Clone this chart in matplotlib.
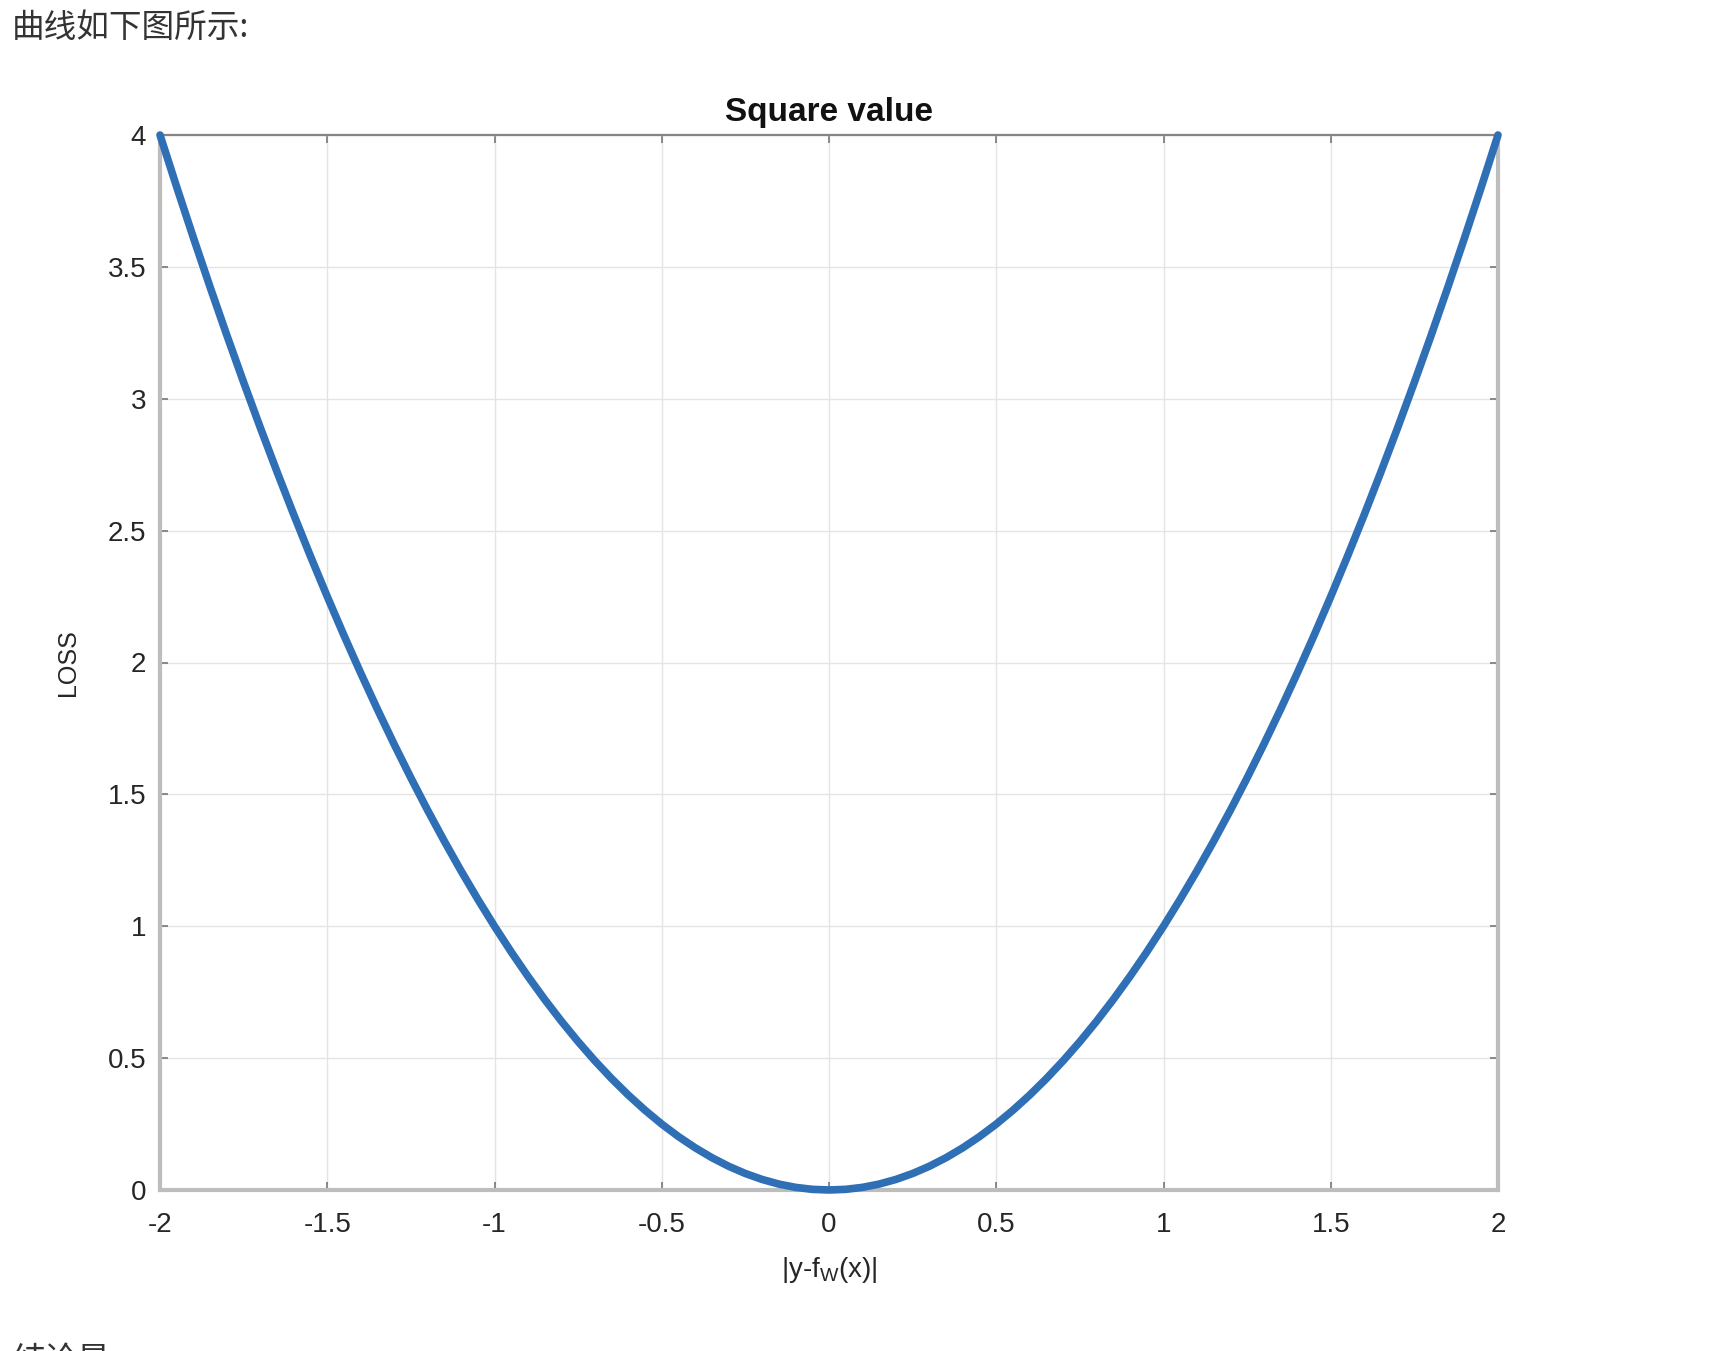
import matplotlib
matplotlib.use("Agg")
import matplotlib.pyplot as plt

# Data (loss curve samples)
x_vals = [-2.00, -1.95, -1.90, -1.85, -1.80, -1.75, -1.70, -1.65, -1.60, -1.55,
          -1.50, -1.45, -1.40, -1.35, -1.30, -1.25, -1.20, -1.15, -1.10, -1.05,
          -1.00, -0.95, -0.90, -0.85, -0.80, -0.75, -0.70, -0.65, -0.60, -0.55,
          -0.50, -0.45, -0.40, -0.35, -0.30, -0.25, -0.20, -0.15, -0.10, -0.05,
          0.00, 0.05, 0.10, 0.15, 0.20, 0.25, 0.30, 0.35, 0.40, 0.45,
          0.50, 0.55, 0.60, 0.65, 0.70, 0.75, 0.80, 0.85, 0.90, 0.95,
          1.00, 1.05, 1.10, 1.15, 1.20, 1.25, 1.30, 1.35, 1.40, 1.45,
          1.50, 1.55, 1.60, 1.65, 1.70, 1.75, 1.80, 1.85, 1.90, 1.95, 2.00]
loss_vals = [4.0000, 3.8025, 3.6100, 3.4225, 3.2400, 3.0625, 2.8900, 2.7225, 2.5600, 2.4025,
             2.2500, 2.1025, 1.9600, 1.8225, 1.6900, 1.5625, 1.4400, 1.3225, 1.2100, 1.1025,
             1.0000, 0.9025, 0.8100, 0.7225, 0.6400, 0.5625, 0.4900, 0.4225, 0.3600, 0.3025,
             0.2500, 0.2025, 0.1600, 0.1225, 0.0900, 0.0625, 0.0400, 0.0225, 0.0100, 0.0025,
             0.0000, 0.0025, 0.0100, 0.0225, 0.0400, 0.0625, 0.0900, 0.1225, 0.1600, 0.2025,
             0.2500, 0.3025, 0.3600, 0.4225, 0.4900, 0.5625, 0.6400, 0.7225, 0.8100, 0.9025,
             1.0000, 1.1025, 1.2100, 1.3225, 1.4400, 1.5625, 1.6900, 1.8225, 1.9600, 2.1025,
             2.2500, 2.4025, 2.5600, 2.7225, 2.8900, 3.0625, 3.2400, 3.4225, 3.6100, 3.8025, 4.0000]
x_ticks = [-2, -1.5, -1, -0.5, 0, 0.5, 1, 1.5, 2]
x_tick_labels = ["-2", "-1.5", "-1", "-0.5", "0", "0.5", "1", "1.5", "2"]
y_ticks = [0, 0.5, 1, 1.5, 2, 2.5, 3, 3.5, 4]
y_tick_labels = ["0", "0.5", "1", "1.5", "2", "2.5", "3", "3.5", "4"]

plt.rcParams['font.family'] = ['Liberation Sans', 'DejaVu Sans']

fig = plt.figure(figsize=(17.11, 13.51), dpi=100)
fig.patch.set_facecolor('white')

# Header text
fig.text(12 / 1711, 1 - 28 / 1351, "曲线如下图所示:", fontsize=23.5,
         color='#333333', va='center', ha='left',
         family=['Noto Sans CJK SC', 'DejaVu Sans'])
# cut-off text at the bottom
fig.text(12 / 1711, 1 - 1345 / 1351, "结论是", fontsize=23.5,
         color='#333333', va='top', ha='left',
         family=['Noto Sans CJK SC', 'DejaVu Sans'])

ax = fig.add_axes([160 / 1711, 1 - 1190 / 1351, (1498 - 160) / 1711, (1190 - 135) / 1351])

ax.plot(x_vals, loss_vals, color='#2f6fb5', linewidth=5.5, solid_capstyle='round',
        solid_joinstyle='round', zorder=3, clip_on=False)

ax.set_xlim(-2, 2)
ax.set_ylim(0, 4)
ax.set_xticks(x_ticks)
ax.set_xticklabels(x_tick_labels)
ax.set_yticks(y_ticks)
ax.set_yticklabels(y_tick_labels)

ax.grid(True, color='#e4e4e4', linewidth=1.0)
ax.set_axisbelow(True)

ax.tick_params(axis='both', direction='in', length=6, width=1.2, color='#777777',
               labelsize=20, labelcolor='#262626', top=True, right=True)
ax.tick_params(axis='x', pad=16)
ax.tick_params(axis='y', pad=10)

for side in ['left', 'bottom', 'right']:
    ax.spines[side].set_color('#bdbdbd')
    ax.spines[side].set_linewidth(3.0)
ax.spines['top'].set_color('#858585')
ax.spines['top'].set_linewidth(1.6)

ax.set_title("Square value", fontsize=24, fontweight='bold', color='#111111', pad=10)
ax.set_xlabel(r"|y-f$_\mathregular{W}$(x)|", fontsize=20, color='#262626', labelpad=12)
ax.set_ylabel("LOSS", fontsize=18, color='#262626', labelpad=20)

fig.savefig("out.png", dpi=100, facecolor='white')
